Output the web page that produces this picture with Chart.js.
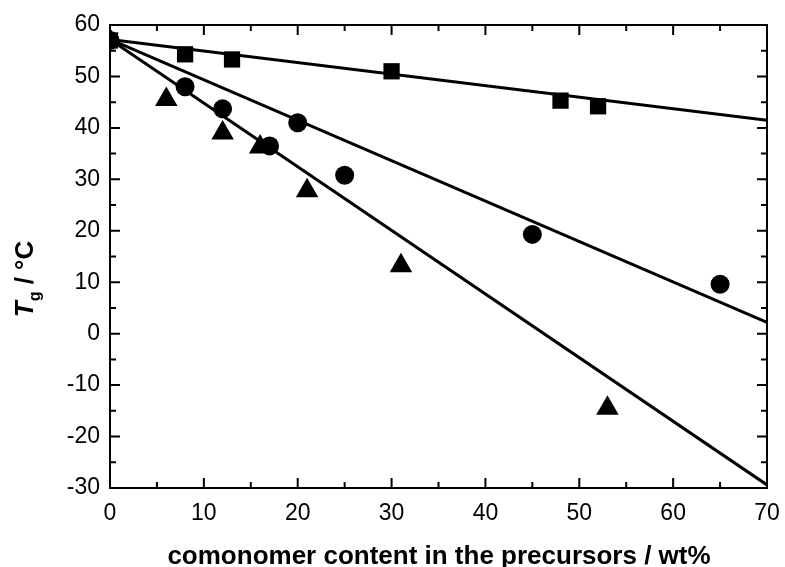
<!DOCTYPE html>
<html>
<head>
<meta charset="utf-8">
<script src="https://cdn.jsdelivr.net/npm/chart.js@4.4.1/dist/chart.umd.min.js"></script>
<style>
  html, body { margin: 0; padding: 0; background: #fff; }
  #wrap { width: 785px; height: 567px; }
</style>
</head>
<body>
<div id="wrap"><canvas id="c" width="785" height="567"></canvas></div>
<script>
const squareX = [0, 8, 13, 30, 48, 52];
const squareY = [57, 54.3, 53.3, 51, 45.3, 44.2];
const circleX = [0, 8, 12, 17, 20, 25, 45, 65];
const circleY = [57, 48, 43.7, 36.5, 41, 30.8, 19.3, 9.6];
const triX = [0, 6, 12, 16, 21, 31, 53];
const triY = [57, 45.5, 39, 36.3, 27.8, 13.2, -14.5];

// fitted lines, end points
const fitX = [0, 70];
const squareFit = [57.2, 41.5];
const circleFit = [57.2, 2.2];
const triFit = [57.2, -29.4];

const xTicks = [0, 10, 20, 30, 40, 50, 60, 70];
const yTicks = [-30, -20, -10, 0, 10, 20, 30, 40, 50, 60];

const pts = (xs, ys) => xs.map((x, i) => ({ x: x, y: ys[i] }));

const frame = {
  id: "frame",
  afterDraw(chart) {
    const ctx = chart.ctx;
    const a = chart.chartArea;
    const sx = chart.scales.x, sy = chart.scales.y;
    ctx.save();
    ctx.strokeStyle = "#000";
    ctx.lineWidth = 2;
    ctx.strokeRect(a.left, a.top, a.right - a.left, a.bottom - a.top);
    for (let v = 0; v <= 70; v += 5) {
      const px = sx.getPixelForValue(v);
      const len = v % 10 === 0 ? 10 : 6;
      ctx.beginPath();
      ctx.moveTo(px, a.bottom); ctx.lineTo(px, a.bottom - len);
      ctx.moveTo(px, a.top); ctx.lineTo(px, a.top + len);
      ctx.stroke();
    }
    for (let v = -30; v <= 60; v += 5) {
      const py = sy.getPixelForValue(v);
      const len = v % 10 === 0 ? 10 : 6;
      ctx.beginPath();
      ctx.moveTo(a.left, py); ctx.lineTo(a.left + len, py);
      ctx.moveTo(a.right, py); ctx.lineTo(a.right - len, py);
      ctx.stroke();
    }
    ctx.fillStyle = "#000";
    // x title
    ctx.font = "bold 26px 'Liberation Sans', Arial, sans-serif";
    ctx.textAlign = "center";
    ctx.textBaseline = "alphabetic";
    ctx.fillText("comonomer content in the precursors / wt%", 439, 564);
    // y title: T (italic) g (subscript) / °C
    ctx.translate(33, 279);
    ctx.rotate(-Math.PI / 2);
    const f1 = "italic bold 26px 'Liberation Sans', Arial, sans-serif";
    const f2 = "bold 16px 'Liberation Sans', Arial, sans-serif";
    const f3 = "bold 26px 'Liberation Sans', Arial, sans-serif";
    ctx.font = f1; const w1 = ctx.measureText("T").width;
    ctx.font = f2; const w2 = ctx.measureText("g").width;
    ctx.font = f3; const w3 = ctx.measureText(" / °C").width;
    let x = -(w1 + w2 + w3) / 2;
    ctx.textAlign = "left";
    ctx.font = f1; ctx.fillText("T", x, 0); x += w1;
    ctx.font = f2; ctx.fillText("g", x, 7); x += w2;
    ctx.font = f3; ctx.fillText(" / °C", x, 0);
    ctx.restore();
  }
};

const marker = { borderColor: "#000", backgroundColor: "#000", showLine: false, borderWidth: 0 };
const fitLine = { borderColor: "#000", borderWidth: 3, pointRadius: 0, showLine: true, fill: false };
const tickFont = { family: "'Liberation Sans', Arial", size: 23 };

new Chart(document.getElementById("c"), {
  type: "scatter",
  data: {
    datasets: [
      Object.assign({ data: pts(fitX, squareFit) }, fitLine),
      Object.assign({ data: pts(fitX, circleFit) }, fitLine),
      Object.assign({ data: pts(fitX, triFit) }, fitLine),
      Object.assign({ data: pts(triX, triY), pointStyle: "triangle", pointRadius: 13 }, marker),
      Object.assign({ data: pts(circleX, circleY), pointStyle: "circle", pointRadius: 9.5 }, marker),
      Object.assign({ data: pts(squareX, squareY), pointStyle: "rect", pointRadius: 11.5 }, marker)
    ]
  },
  options: {
    responsive: false,
    animation: false,
    layout: { padding: { top: 25, right: 18, left: 0, bottom: 0 } },
    plugins: { legend: { display: false }, tooltip: { enabled: false } },
    scales: {
      x: {
        type: "linear", min: 0, max: 70,
        afterBuildTicks: s => { s.ticks = xTicks.map(v => ({ value: v })); },
        afterFit: s => { s.height = 79; s.paddingLeft = 0; s.paddingRight = 0; },
        grid: { display: false, drawTicks: false },
        border: { display: false },
        ticks: { color: "#000", padding: 12, maxRotation: 0, font: tickFont }
      },
      y: {
        type: "linear", min: -30, max: 60,
        afterBuildTicks: s => { s.ticks = yTicks.map(v => ({ value: v })); },
        afterFit: s => { s.width = 110; s.paddingTop = 0; s.paddingBottom = 0; },
        grid: { display: false, drawTicks: false },
        border: { display: false },
        ticks: { color: "#000", padding: 10, font: tickFont }
      }
    }
  },
  plugins: [frame]
});
</script>
</body>
</html>
